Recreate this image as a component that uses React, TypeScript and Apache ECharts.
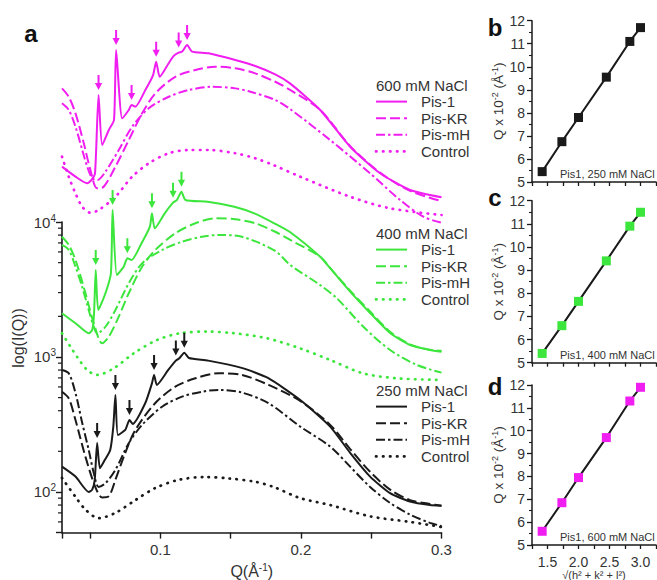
import React, { useEffect, useRef } from 'react';
import * as echarts from 'echarts';

const FONT = '"Liberation Sans", Arial, sans-serif';
const MAGENTA = '#f01ef0';
const GREEN = '#3ce63c';
const BLACK = '#1a1a1a';
const TEXT = '#333333';

const Q_MIN = 0.03;
const Q_MAX = 0.3;
const I_MIN = 50;
const I_MAX = 10000;

// ---- panel a: SAXS curves [Q (1/Å), I(Q)] ----
const pis1_250 = [[0.030,154],[0.0396,130],[0.049,100],[0.0515,104],[0.0533,123],[0.055,231],[0.057,150],[0.0605,173],[0.0643,205],[0.0665,305],[0.068,523],[0.0698,264],[0.075,288],[0.078,341],[0.0803,319],[0.0892,454],[0.094,638],[0.0955,736],[0.0975,621],[0.1056,802],[0.111,940],[0.1135,978],[0.117,1076],[0.1203,984],[0.134,940],[0.1578,830],[0.1765,699],[0.1995,480],[0.2208,305],[0.235,195],[0.2492,130],[0.2634,98],[0.2776,85],[0.2918,80],[0.300,79]];
const pisKR_250 = [[0.030,553],[0.0348,494],[0.0396,341],[0.0467,182],[0.0537,109],[0.0586,91],[0.0633,93],[0.068,123],[0.075,195],[0.0822,288],[0.0964,456],[0.1106,603],[0.1249,695],[0.1414,757],[0.158,736],[0.177,621],[0.1995,472],[0.2208,314],[0.235,208],[0.2492,141],[0.2634,104],[0.2776,87],[0.2918,81.5],[0.300,79]];
const pisMH_250 = [[0.030,802],[0.0348,757],[0.0396,541],[0.0444,324],[0.049,205],[0.0526,138],[0.0561,109],[0.0609,116],[0.068,146],[0.0775,230],[0.087,314],[0.1012,428],[0.1154,508],[0.1296,553],[0.1414,570],[0.158,545],[0.177,454],[0.1995,305],[0.2208,217],[0.235,154],[0.2492,109],[0.2634,83],[0.2776,68],[0.2918,59],[0.300,56]];
const ctrl_250 = [[0.030,127],[0.0396,92],[0.0467,74],[0.0561,64],[0.068,70],[0.0822,87],[0.0964,107],[0.113,123],[0.1318,129],[0.1485,126],[0.1675,119],[0.1805,109],[0.1995,90],[0.2208,80],[0.2492,66],[0.2776,60],[0.300,55]];

const pis1_400 = [[0.030,2108],[0.0396,1778],[0.049,1500],[0.0515,1585],[0.0528,2100],[0.054,4410],[0.0558,2228],[0.0609,2965],[0.0648,4170],[0.066,12270],[0.069,4045],[0.0739,4665],[0.0765,5380],[0.0795,5230],[0.0866,6950],[0.0925,9230],[0.094,11590],[0.096,8980],[0.1031,11590],[0.109,13900],[0.1118,14560],[0.115,16770],[0.1178,14560],[0.1336,14130],[0.1526,12970],[0.1668,11590],[0.181,9780],[0.1924,8400],[0.2137,5530],[0.2208,4550],[0.235,3050],[0.2492,2120],[0.2634,1506],[0.2776,1227],[0.2918,1127],[0.300,1094]];
const pisKR_400 = [[0.030,7780],[0.0348,6760],[0.0396,5230],[0.0467,2965],[0.0526,1778],[0.0586,1263],[0.0633,1413],[0.0704,1990],[0.0775,2965],[0.087,4665],[0.0964,6210],[0.1106,8250],[0.1249,9780],[0.1391,10650],[0.1533,10470],[0.1675,9780],[0.1817,8470],[0.1924,7360],[0.2137,5530],[0.2208,4550],[0.235,3100],[0.2492,2170],[0.2634,1540],[0.2776,1240],[0.2918,1130],[0.300,1110]];
const pisMH_400 = [[0.030,6760],[0.0348,6210],[0.0396,4665],[0.0443,3320],[0.049,2228],[0.0526,1675],[0.055,1500],[0.0609,1675],[0.068,2228],[0.0775,3515],[0.087,4940],[0.1012,6210],[0.1154,7140],[0.1296,7780],[0.1414,8010],[0.158,7780],[0.1817,6100],[0.1924,4800],[0.2137,3410],[0.2255,2724],[0.2444,1675],[0.2634,1127],[0.2824,873],[0.300,766]];
const ctrl_400 = [[0.030,1500],[0.036,1192],[0.0408,1000],[0.0479,802],[0.055,736],[0.0668,824],[0.081,1064],[0.0976,1337],[0.1142,1500],[0.1332,1542],[0.1521,1500],[0.1758,1376],[0.1995,1158],[0.2208,950],[0.2442,757],[0.2682,695],[0.300,676]];

const pis1_600 = [[0.030,25700],[0.0396,21660],[0.0479,19350],[0.051,20480],[0.0535,23000],[0.056,87300],[0.0586,37150],[0.0633,48000],[0.067,57000],[0.0685,187900],[0.0728,58600],[0.0775,67600],[0.0795,73600],[0.0822,71500],[0.0893,95000],[0.0948,122700],[0.097,153900],[0.0995,119100],[0.1059,150000],[0.1095,170000],[0.113,180000],[0.1155,183000],[0.119,204600],[0.1225,183000],[0.1343,177800],[0.1533,158500],[0.1675,143000],[0.1817,124000],[0.1924,106000],[0.2137,67600],[0.235,36100],[0.2563,22950],[0.2776,17270],[0.300,15240]];
const pisKR_600 = [[0.030,97700],[0.0348,84700],[0.0396,63800],[0.0455,38300],[0.0502,24300],[0.055,17780],[0.0597,18250],[0.068,25700],[0.0775,40460],[0.087,63800],[0.0964,89700],[0.1106,119100],[0.1249,133600],[0.1391,141400],[0.1533,137600],[0.1675,126200],[0.1817,109400],[0.1924,95000],[0.2137,67600],[0.235,36500],[0.2563,23200],[0.2776,17000],[0.300,14300]];
const pisMH_600 = [[0.030,75700],[0.0348,67600],[0.0396,50800],[0.0444,34150],[0.0479,25700],[0.0515,21100],[0.0552,20480],[0.0609,23600],[0.0704,34150],[0.0799,50800],[0.0917,69500],[0.1059,84700],[0.1201,95000],[0.1367,100400],[0.1533,97700],[0.164,92300],[0.1817,80200],[0.1924,68500],[0.2208,40460],[0.2492,22950],[0.2705,14560],[0.2871,10940],[0.300,9880]];
const ctrl_600 = [[0.030,30500],[0.0348,21660],[0.0396,16300],[0.0444,12970],[0.0502,11720],[0.0561,12270],[0.068,15390],[0.0799,21660],[0.0917,27200],[0.1059,32300],[0.1201,34150],[0.1343,34150],[0.1533,32300],[0.1675,29650],[0.1805,26400],[0.1995,21660],[0.235,15390],[0.2634,12630],[0.300,11270]];

// ---- panels b-d: Q x 10^-2 vs sqrt(h^2+k^2+l^2) ----
const hklRoot = [1.414, 1.732, 2.0, 2.449, 2.828, 3.0];
const peakQ250 = [5.45, 6.75, 7.8, 9.55, 11.1, 11.7];
const peakQ400 = [5.4, 6.6, 7.65, 9.4, 10.9, 11.5];
const peakQ600 = [5.6, 6.85, 7.95, 9.7, 11.3, 11.9];

// ---- tick labels ----
const xTickLabels = [0.1, 0.2, 0.3];
const smallXTickLabels = [1.5, 2.0, 2.5, 3.0];
const yMinorTicks = [60, 70, 80, 90, 200, 300, 400, 500, 600, 700, 800, 900, 2000, 3000, 4000, 5000, 6000, 7000, 8000, 9000];
const legendNames = ['Pis-1', 'Pis-KR', 'Pis-mH', 'Control'];

const KINDS: any = {
  solid: { type: 'solid', width: 2, dash: null, cap: 'butt', smooth: 0.2 },
  dashed: { type: [10, 4], width: 2, dash: [10, 4], cap: 'butt', smooth: 0.3 },
  dashdot: { type: [9, 3, 2.5, 3], width: 2, dash: [9, 3, 2.5, 3], cap: 'butt', smooth: 0.3 },
  dotted: { type: [0.5, 6.5], width: 2.7, dash: [0.5, 6.5], cap: 'round', smooth: 0.3 },
};

function nearest(data: number[][], q: number) {
  let best = data[0];
  for (const d of data) if (Math.abs(d[0] - q) < Math.abs(best[0] - q)) best = d;
  return best;
}

function curve(name: string, data: number[][], color: string, kind: string) {
  const k = KINDS[kind];
  return {
    type: 'line',
    name,
    xAxisIndex: 0,
    yAxisIndex: 0,
    data,
    symbol: 'none',
    showSymbol: false,
    clip: false,
    silent: true,
    smooth: k.smooth,
    z: kind === 'solid' ? 5 : 3,
    lineStyle: { color, width: k.width, type: k.type, cap: k.cap },
  };
}

function arrows(name: string, data: number[][], peaks: number[], color: string) {
  return {
    type: 'custom',
    name,
    xAxisIndex: 0,
    yAxisIndex: 0,
    clip: false,
    silent: true,
    z: 6,
    data: peaks.map((p) => nearest(data, p / 100)),
    renderItem: (_params: any, api: any) => {
      const c = api.coord([api.value(0), api.value(1)]);
      const x = c[0];
      const y = c[1];
      return {
        type: 'polygon',
        shape: {
          points: [[x - 1, y - 20], [x + 1, y - 20], [x + 1, y - 12], [x + 3.6, y - 12], [x, y - 5], [x - 3.6, y - 12], [x - 1, y - 12]],
        },
        style: { fill: color, stroke: 'none' },
      };
    },
  };
}

function legendBlock(title: string, top: number, color: string) {
  const els: any[] = [
    { type: 'text', x: 376, y: top, style: { text: title, font: `15px ${FONT}`, fill: TEXT, align: 'left', verticalAlign: 'middle', textAlign: 'left', textVerticalAlign: 'middle' } },
  ];
  ['solid', 'dashed', 'dashdot', 'dotted'].forEach((kind, i) => {
    const k = KINDS[kind];
    const y = top + 16.6 * (i + 1);
    els.push({ type: 'line', shape: { x1: 376, y1: y, x2: 407, y2: y }, style: { stroke: color, lineWidth: k.width, lineDash: k.dash, lineCap: k.cap } });
    els.push({ type: 'text', x: 421, y, style: { text: legendNames[i], font: `15px ${FONT}`, fill: TEXT, align: 'left', verticalAlign: 'middle', textAlign: 'left', textVerticalAlign: 'middle' } });
  });
  return els;
}

const SMALL = [
  { top: 20.7, bottom: 580 - 182, vals: peakQ250, color: BLACK, label: 'Pis1, 250 mM NaCl', letter: 'b', ly: 27 },
  { top: 200.7, bottom: 580 - 362.7, vals: peakQ400, color: GREEN, label: 'Pis1, 400 mM NaCl', letter: 'c', ly: 197 },
  { top: 385, bottom: 35, vals: peakQ600, color: MAGENTA, label: 'Pis1, 600 mM NaCl', letter: 'd', ly: 386 },
];

function buildOption() {
  const grids: any[] = [{ left: 62, right: 215.5, top: 222, bottom: 47.4, outerBoundsMode: 'none', containLabel: false }];
  const xAxes: any[] = [{
    gridIndex: 0, type: 'value', min: Q_MIN, max: Q_MAX, splitNumber: 5,
    axisLine: { show: true, onZero: false, lineStyle: { color: BLACK, width: 1.6 } },
    axisTick: { show: true, inside: false, length: 6, lineStyle: { color: BLACK, width: 1.4 } },
    splitLine: { show: false },
    axisLabel: {
      show: true, margin: 9, fontSize: 15, fontFamily: FONT, color: TEXT,
      formatter: (v: number) => (xTickLabels.some((t) => Math.abs(t - v) < 1e-6) ? v.toFixed(1) : ''),
    },
    name: 'Q(Å{s|-1})', nameLocation: 'middle', nameGap: 30,
    nameTextStyle: { fontSize: 16, fontFamily: FONT, color: TEXT, rich: { s: { fontSize: 10, fontFamily: FONT, color: TEXT, padding: [0, 0, 8, 0] } } },
  }];
  const yAxes: any[] = [{
    gridIndex: 0, type: 'log', logBase: 10, min: I_MIN, max: I_MAX,
    axisLine: { show: true, onZero: false, lineStyle: { color: BLACK, width: 1.6 } },
    axisTick: { show: true, inside: false, length: 6, lineStyle: { color: BLACK, width: 1.4 } },
    minorTick: { show: false },
    splitLine: { show: false },
    axisLabel: {
      show: true, margin: 6, fontFamily: FONT, color: TEXT,
      formatter: (v: number) => {
        const l = Math.log10(v);
        const e = Math.round(l);
        if (Math.abs(l - e) > 0.01) return '';
        return `{b|10}{e|${e}}`;
      },
      rich: {
        b: { fontSize: 15, fontFamily: FONT, color: TEXT },
        e: { fontSize: 10, fontFamily: FONT, color: TEXT, padding: [0, 0, 8, 0] },
      },
    },
  }];

  SMALL.forEach((p, i) => {
    const gi = i + 1;
    grids.push({ left: 532, right: 1, top: p.top, bottom: p.bottom, outerBoundsMode: 'none', containLabel: false });
    xAxes.push({
      gridIndex: gi, type: 'value', min: 1.25, max: 3.25, interval: 0.25,
      axisLine: { show: true, onZero: false, lineStyle: { color: BLACK, width: 1.5 } },
      axisTick: { show: true, inside: false, length: 4, lineStyle: { color: BLACK, width: 1.3 } },
      splitLine: { show: false },
      axisLabel: {
        show: gi === 3, margin: 10, fontSize: 14, fontFamily: FONT, color: TEXT,
        formatter: (v: number) => (smallXTickLabels.some((t) => Math.abs(t - v) < 1e-6) ? v.toFixed(1) : ''),
      },
      name: gi === 3 ? '√(h² + k² + l²)' : '', nameLocation: 'middle', nameGap: 23,
      nameTextStyle: { fontSize: 11, fontFamily: FONT, color: TEXT },
    });
    yAxes.push({
      gridIndex: gi, type: 'value', min: 5, max: 12, interval: 1,
      axisLine: { show: true, onZero: false, lineStyle: { color: BLACK, width: 1.5 } },
      axisTick: { show: true, inside: false, length: 5, lineStyle: { color: BLACK, width: 1.3 } },
      minorTick: { show: true, splitNumber: 2, length: 3, lineStyle: { color: BLACK, width: 1.1 } },
      splitLine: { show: false },
      axisLabel: { show: true, margin: 7, fontSize: 14, fontFamily: FONT, color: TEXT },
      name: 'Q x 10{s|-2} (Å{s|-1})', nameLocation: 'middle', nameRotate: 90, nameGap: 26,
      nameTextStyle: { fontSize: 13.5, fontFamily: FONT, color: TEXT, rich: { s: { fontSize: 9, fontFamily: FONT, color: TEXT, padding: [0, 0, 7, 0] } } },
    });
  });

  const series: any[] = [
    curve('Control 600', ctrl_600, MAGENTA, 'dotted'),
    curve('Pis-mH 600', pisMH_600, MAGENTA, 'dashdot'),
    curve('Pis-KR 600', pisKR_600, MAGENTA, 'dashed'),
    curve('Pis-1 600', pis1_600, MAGENTA, 'solid'),
    arrows('peaks 600', pis1_600, peakQ600, MAGENTA),
    curve('Control 400', ctrl_400, GREEN, 'dotted'),
    curve('Pis-mH 400', pisMH_400, GREEN, 'dashdot'),
    curve('Pis-KR 400', pisKR_400, GREEN, 'dashed'),
    curve('Pis-1 400', pis1_400, GREEN, 'solid'),
    arrows('peaks 400', pis1_400, peakQ400, GREEN),
    curve('Control 250', ctrl_250, BLACK, 'dotted'),
    curve('Pis-mH 250', pisMH_250, BLACK, 'dashdot'),
    curve('Pis-KR 250', pisKR_250, BLACK, 'dashed'),
    curve('Pis-1 250', pis1_250, BLACK, 'solid'),
    arrows('peaks 250', pis1_250, peakQ250, BLACK),
    {
      type: 'custom', name: 'minor ticks', xAxisIndex: 0, yAxisIndex: 0, clip: false, silent: true,
      data: yMinorTicks.map((v) => [Q_MIN, v]),
      renderItem: (_params: any, api: any) => {
        const p = api.coord([api.value(0), api.value(1)]);
        return { type: 'line', shape: { x1: p[0] - 4, y1: p[1], x2: p[0], y2: p[1] }, style: { stroke: BLACK, lineWidth: 1.2 } };
      },
    },
  ];

  SMALL.forEach((p, i) => {
    series.push({
      type: 'line', name: p.label, xAxisIndex: i + 1, yAxisIndex: i + 1,
      data: hklRoot.map((x, j) => [x, p.vals[j]]),
      symbol: 'rect', symbolSize: 9, showSymbol: true, silent: true, z: 4,
      itemStyle: { color: p.color },
      lineStyle: { color: BLACK, width: 2 },
    });
  });

  const graphic: any[] = [
    { type: 'text', x: 31, y: 33, style: { text: 'a', font: `bold 24px ${FONT}`, fill: '#111', align: 'center', verticalAlign: 'middle', textAlign: 'center', textVerticalAlign: 'middle' } },
    { type: 'text', x: 18, y: 338, rotation: Math.PI / 2, style: { text: 'log(I(Q))', font: `16px ${FONT}`, fill: TEXT, align: 'center', verticalAlign: 'middle', textAlign: 'center', textVerticalAlign: 'middle' } },
    ...legendBlock('600 mM NaCl', 85, MAGENTA),
    ...legendBlock('400 mM NaCl', 233, GREEN),
    ...legendBlock('250 mM NaCl', 390, BLACK),
  ];
  SMALL.forEach((p) => {
    graphic.push({ type: 'text', x: 495, y: p.ly, style: { text: p.letter, font: `bold 24px ${FONT}`, fill: '#111', align: 'center', verticalAlign: 'middle', textAlign: 'center', textVerticalAlign: 'middle' } });
    graphic.push({ type: 'text', x: 560, y: 580 - p.bottom - 8, style: { text: p.label, font: `11px ${FONT}`, fill: TEXT, align: 'left', verticalAlign: 'middle', textAlign: 'left', textVerticalAlign: 'middle' } });
  });

  return {
    animation: false,
    backgroundColor: '#ffffff',
    textStyle: { fontFamily: FONT },
    grid: grids,
    xAxis: xAxes,
    yAxis: yAxes,
    series,
    graphic,
  };
}

export default function App() {
  const ref = useRef<HTMLDivElement>(null);
  useEffect(() => {
    if (!ref.current) return;
    const chart = echarts.init(ref.current, null, { renderer: 'svg' });
    chart.setOption(buildOption() as any);
    return () => chart.dispose();
  }, []);
  return <div ref={ref} style={{ position: 'absolute', left: 0, top: 0, width: 657, height: 580 }} />;
}
